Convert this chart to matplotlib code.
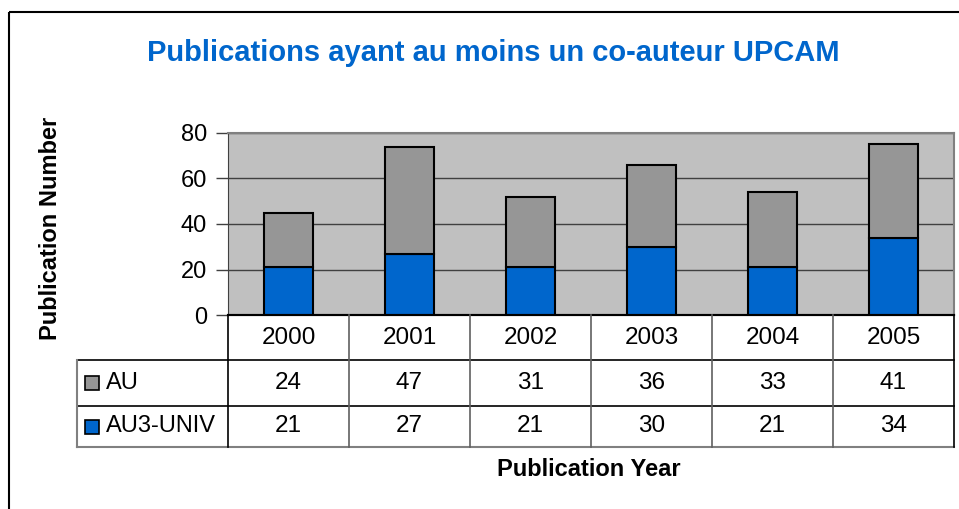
import matplotlib.pyplot as plt
from matplotlib.patches import Rectangle

years = ['2000', '2001', '2002', '2003', '2004', '2005']
au = [24, 47, 31, 36, 33, 41]
au3_univ = [21, 27, 21, 30, 21, 34]
series_names = ['AU', 'AU3-UNIV']
yticks = [0, 20, 40, 60, 80]

grey = '#969696'
blue = '#0066CC'

plt.rcParams['font.family'] = ['Liberation Sans', 'DejaVu Sans']

W, H = 959, 509
fig = plt.figure(figsize=(W / 100, H / 100), dpi=100, facecolor='white')

# pixel layout of the plot area
px_left, px_right = 228, 954
px_top, px_bottom = 133, 315

def fx(px):
    return px / W

def fy(py):
    return 1 - py / H

ax = fig.add_axes([fx(px_left), fy(px_bottom), fx(px_right - px_left), (px_bottom - px_top) / H])
ax.set_facecolor('#C0C0C0')
x = list(range(len(years)))
ax.bar(x, au3_univ, width=0.4, color=blue, edgecolor='black', linewidth=1.5, zorder=3)
ax.bar(x, au, width=0.4, bottom=au3_univ, color=grey, edgecolor='black', linewidth=1.5, zorder=3)
ax.set_xlim(-0.5, len(years) - 0.5)
ax.set_ylim(0, 80)
ax.set_yticks(yticks)
ax.set_yticklabels([str(t) for t in yticks], fontsize=17)
ax.tick_params(axis='y', length=9, width=1, color='#404040', pad=6)
ax.set_xticks([])
ax.yaxis.grid(True, color='#404040', linewidth=1, zorder=1)
for s in ['top', 'right']:
    ax.spines[s].set_color('#808080')
    ax.spines[s].set_linewidth(1.5)
ax.spines['left'].set_color('#404040')
ax.spines['bottom'].set_color('black')
ax.spines['bottom'].set_linewidth(1.5)

# overlay in pixel coordinates for table, border and labels
ov = fig.add_axes([0, 0, 1, 1], facecolor='none')
ov.set_xlim(0, W)
ov.set_ylim(H, 0)
ov.axis('off')

col_w = (px_right - px_left) / len(years)
tbl_left = 77
row_y = [315, 360, 406, 447]

def col_center(i):
    return px_left + (i + 0.5) * col_w

# horizontal lines
ov.plot([px_left, px_right], [row_y[0], row_y[0]], color='black', lw=1.5)
ov.plot([tbl_left, px_right], [row_y[1], row_y[1]], color='black', lw=1.2)
ov.plot([tbl_left, px_right], [row_y[2], row_y[2]], color='black', lw=1.2)
ov.plot([tbl_left, px_right], [row_y[3], row_y[3]], color='#808080', lw=1.5)
# vertical lines
ov.plot([tbl_left, tbl_left], [row_y[1], row_y[3]], color='#808080', lw=1.5)
for i in range(len(years) + 1):
    xx = px_left + i * col_w
    ov.plot([xx, xx], [row_y[0], row_y[3]], color='#606060' if 0 < i < len(years) else 'black', lw=1.2)

for i, yr in enumerate(years):
    ov.text(col_center(i), (row_y[0] + row_y[1]) / 2, yr, ha='center', va='center', fontsize=17.5)
    ov.text(col_center(i), (row_y[1] + row_y[2]) / 2, str(au[i]), ha='center', va='center', fontsize=17.5)
    ov.text(col_center(i), (row_y[2] + row_y[3]) / 2, str(au3_univ[i]), ha='center', va='center', fontsize=17.5)

for r, (name, c) in enumerate(zip(series_names, [grey, blue])):
    yc = (row_y[r + 1] + row_y[r + 2]) / 2
    ov.add_patch(Rectangle((85, yc - 7), 14, 14, facecolor=c, edgecolor='black', lw=1.2))
    ov.text(106, yc, name, ha='left', va='center', fontsize=17)

# outer border
ov.add_patch(Rectangle((9, 12), W + 10, H + 10, facecolor='none', edgecolor='black', lw=1.5))

ov.text(493, 53, 'Publications ayant au moins un co-auteur UPCAM', ha='center', va='center',
        fontsize=21, fontweight='bold', color=blue)
ov.text(51, 228, 'Publication Number', ha='center', va='center', rotation=90,
        fontsize=17, fontweight='bold')
ov.text(589, 469, 'Publication Year', ha='center', va='center', fontsize=17, fontweight='bold')

fig.savefig('out.png', dpi=100)
